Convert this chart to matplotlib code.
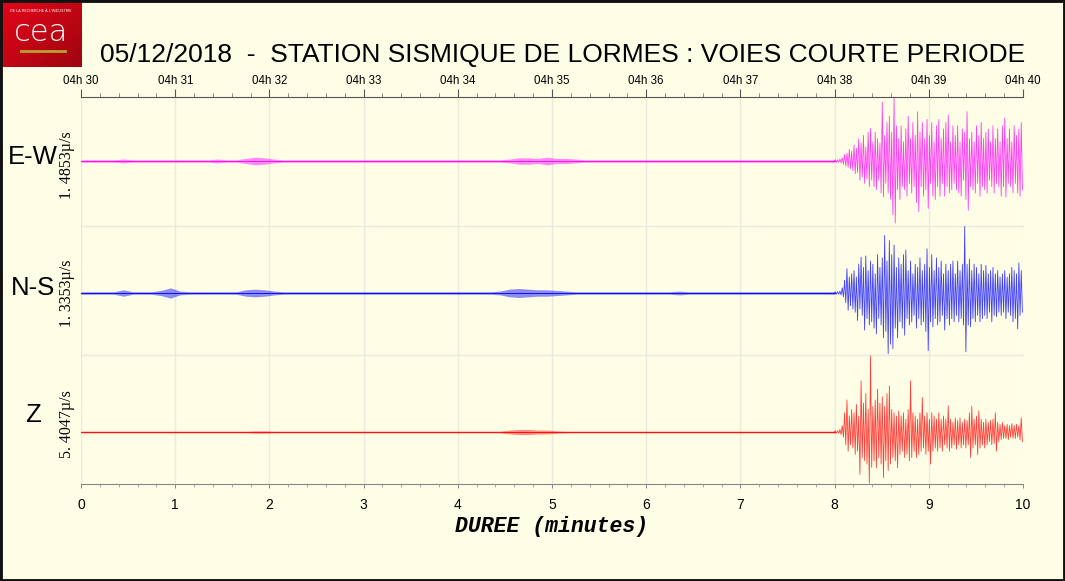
import numpy as np
import matplotlib
matplotlib.use("Agg")
import matplotlib.pyplot as plt
from matplotlib.patches import Rectangle

# ---------------- data ----------------
title = "05/12/2018  -  STATION SISMIQUE DE LORMES : VOIES COURTE PERIODE"
channels = ["E-W", "N-S", "Z"]
scales = ["1. 4853µ/s", "1. 3353µ/s", "5. 4047µ/s"]
colors = ["#FF00FF", "#0000FF", "#FF0000"]
top_ticks = ["04h 30", "04h 31", "04h 32", "04h 33", "04h 34", "04h 35",
             "04h 36", "04h 37", "04h 38", "04h 39", "04h 40"]
bottom_ticks = [0, 1, 2, 3, 4, 5, 6, 7, 8, 9, 10]

# quiet part, 0.0 -> 8.0 min, envelope per 0.1 min (normalised amplitude)
ew_quiet = [0.02, 0.02, 0.02, 0.02, 0.03, 0.02, 0.02, 0.02, 0.02, 0.02,
            0.02, 0.02, 0.02, 0.02, 0.03, 0.02, 0.02, 0.04, 0.06, 0.05,
            0.03, 0.02, 0.02, 0.02, 0.02, 0.02, 0.02, 0.02, 0.02, 0.02,
            0.02, 0.02, 0.02, 0.02, 0.02, 0.02, 0.02, 0.02, 0.02, 0.02,
            0.02, 0.02, 0.02, 0.02, 0.02, 0.03, 0.05, 0.05, 0.04, 0.06,
            0.04, 0.04, 0.03, 0.02, 0.02, 0.02, 0.02, 0.02, 0.02, 0.02,
            0.02, 0.02, 0.02, 0.02, 0.02, 0.02, 0.02, 0.02, 0.02, 0.02,
            0.02, 0.02, 0.02, 0.02, 0.02, 0.02, 0.02, 0.02, 0.02, 0.02]
ns_quiet = [0.02, 0.02, 0.02, 0.02, 0.05, 0.02, 0.02, 0.02, 0.04, 0.08,
            0.03, 0.02, 0.02, 0.02, 0.02, 0.02, 0.02, 0.05, 0.06, 0.05,
            0.03, 0.02, 0.02, 0.02, 0.02, 0.02, 0.02, 0.02, 0.02, 0.02,
            0.02, 0.02, 0.02, 0.02, 0.02, 0.02, 0.02, 0.02, 0.02, 0.02,
            0.02, 0.02, 0.02, 0.02, 0.03, 0.06, 0.07, 0.06, 0.05, 0.05,
            0.04, 0.03, 0.02, 0.02, 0.02, 0.02, 0.02, 0.02, 0.02, 0.02,
            0.02, 0.02, 0.02, 0.03, 0.02, 0.02, 0.02, 0.02, 0.02, 0.02,
            0.02, 0.02, 0.02, 0.02, 0.02, 0.02, 0.02, 0.02, 0.02, 0.02]
z_quiet = [0.015, 0.015, 0.015, 0.015, 0.015, 0.015, 0.015, 0.015, 0.015, 0.015,
           0.015, 0.015, 0.015, 0.015, 0.015, 0.015, 0.015, 0.015, 0.02, 0.02,
           0.015, 0.015, 0.015, 0.015, 0.015, 0.015, 0.015, 0.015, 0.015, 0.015,
           0.015, 0.015, 0.015, 0.015, 0.015, 0.015, 0.015, 0.015, 0.015, 0.015,
           0.015, 0.015, 0.015, 0.015, 0.015, 0.03, 0.04, 0.04, 0.03, 0.03,
           0.02, 0.015, 0.015, 0.015, 0.015, 0.015, 0.015, 0.015, 0.015, 0.015,
           0.015, 0.015, 0.015, 0.015, 0.015, 0.015, 0.015, 0.015, 0.015, 0.015,
           0.015, 0.015, 0.015, 0.015, 0.015, 0.015, 0.015, 0.015, 0.015, 0.015]

# active part, 8.0 -> 10.0 min, peak up / peak down per 0.025 min
ew_up = [0.02, 0.02, 0.03, 0.05, 0.10, 0.12, 0.18, 0.15, 0.25, 0.20,
         0.35, 0.28, 0.40, 0.22, 0.45, 0.51, 0.30, 0.45, 0.35, 0.28,
         0.92, 0.40, 0.60, 0.70, 0.45, 0.99, 0.55, 0.35, 0.55, 0.30,
         0.50, 0.70, 0.35, 0.60, 0.40, 0.77, 0.45, 0.60, 0.35, 0.65,
         0.40, 0.60, 0.30, 0.55, 0.65, 0.35, 0.50, 0.60, 0.72, 0.30,
         0.55, 0.40, 0.55, 0.30, 0.50, 0.45, 0.77, 0.35, 0.45, 0.30,
         0.55, 0.40, 0.60, 0.35, 0.45, 0.50, 0.30, 0.55, 0.35, 0.50,
         0.30, 0.55, 0.67, 0.35, 0.50, 0.30, 0.55, 0.40, 0.50, 0.60]
ew_down = [0.02, 0.02, 0.03, 0.05, 0.08, 0.10, 0.12, 0.15, 0.20, 0.18,
           0.30, 0.25, 0.35, 0.28, 0.40, 0.30, 0.40, 0.45, 0.30, 0.50,
           0.56, 0.35, 0.50, 0.60, 0.84, 0.97, 0.45, 0.60, 0.40, 0.45,
           0.55, 0.35, 0.50, 0.40, 0.65, 0.79, 0.40, 0.55, 0.45, 0.74,
           0.35, 0.55, 0.60, 0.40, 0.55, 0.35, 0.55, 0.40, 0.50, 0.45,
           0.35, 0.45, 0.50, 0.55, 0.30, 0.60, 0.77, 0.40, 0.45, 0.50,
           0.35, 0.55, 0.40, 0.45, 0.50, 0.30, 0.40, 0.50, 0.35, 0.40,
           0.55, 0.40, 0.56, 0.35, 0.40, 0.50, 0.35, 0.50, 0.55, 0.45]
ns_up = [0.02, 0.02, 0.03, 0.08, 0.20, 0.38, 0.25, 0.30, 0.35, 0.25,
         0.45, 0.56, 0.40, 0.58, 0.35, 0.50, 0.45, 0.30, 0.60, 0.40,
         0.55, 0.90, 0.50, 0.82, 0.60, 0.75, 0.40, 0.55, 0.45, 0.60,
         0.67, 0.35, 0.50, 0.30, 0.45, 0.40, 0.55, 0.35, 0.45, 0.69,
         0.40, 0.60, 0.35, 0.55, 0.40, 0.50, 0.30, 0.45, 0.35, 0.45,
         0.50, 0.30, 0.50, 0.35, 0.45, 1.04, 0.45, 0.53, 0.35, 0.45,
         0.40, 0.30, 0.45, 0.35, 0.43, 0.30, 0.35, 0.40, 0.30, 0.35,
         0.25, 0.30, 0.35, 0.25, 0.30, 0.40, 0.35, 0.30, 0.47, 0.35]
ns_down = [0.02, 0.02, 0.03, 0.06, 0.15, 0.27, 0.20, 0.25, 0.30, 0.43,
           0.25, 0.35, 0.58, 0.40, 0.50, 0.45, 0.55, 0.64, 0.40, 0.50,
           0.70, 0.60, 0.95, 0.80, 0.87, 0.55, 0.70, 0.45, 0.55, 0.66,
           0.40, 0.50, 0.45, 0.35, 0.55, 0.40, 0.50, 0.45, 0.60, 0.90,
           0.45, 0.53, 0.40, 0.50, 0.45, 0.35, 0.58, 0.40, 0.50, 0.40,
           0.45, 0.35, 0.45, 0.40, 0.50, 0.92, 0.50, 0.53, 0.40, 0.45,
           0.35, 0.45, 0.40, 0.35, 0.40, 0.30, 0.45, 0.35, 0.37, 0.30,
           0.35, 0.30, 0.40, 0.30, 0.35, 0.45, 0.40, 0.56, 0.35, 0.30]
z_up = [0.02, 0.02, 0.04, 0.10, 0.30, 0.50, 0.25, 0.35, 0.30, 0.43,
        0.25, 0.80, 0.45, 0.60, 0.35, 1.19, 0.40, 0.50, 0.67, 0.45,
        0.55, 0.40, 0.60, 0.72, 0.35, 0.30, 0.25, 0.33, 0.25, 0.30,
        0.20, 0.35, 0.80, 0.30, 0.25, 0.20, 0.30, 0.54, 0.25, 0.30,
        0.20, 0.30, 0.25, 0.20, 0.30, 0.20, 0.25, 0.20, 0.41, 0.20,
        0.15, 0.22, 0.18, 0.22, 0.15, 0.20, 0.18, 0.30, 0.40, 0.20,
        0.25, 0.33, 0.20, 0.15, 0.20, 0.15, 0.18, 0.20, 0.30, 0.15,
        0.12, 0.15, 0.10, 0.12, 0.10, 0.13, 0.10, 0.12, 0.10, 0.22]
z_down = [0.02, 0.02, 0.04, 0.08, 0.20, 0.30, 0.20, 0.25, 0.35, 0.30,
          0.66, 0.40, 0.45, 0.50, 0.80, 0.55, 0.45, 0.56, 0.40, 0.50,
          0.71, 0.45, 0.60, 0.50, 0.40, 0.45, 0.56, 0.35, 0.30, 0.40,
          0.35, 0.45, 0.40, 0.30, 0.40, 0.35, 0.30, 0.25, 0.35, 0.30,
          0.50, 0.30, 0.25, 0.30, 0.25, 0.30, 0.20, 0.25, 0.30, 0.25,
          0.20, 0.27, 0.20, 0.25, 0.20, 0.25, 0.20, 0.40, 0.25, 0.20,
          0.35, 0.25, 0.20, 0.25, 0.20, 0.15, 0.20, 0.18, 0.30, 0.15,
          0.12, 0.10, 0.10, 0.12, 0.08, 0.10, 0.10, 0.08, 0.12, 0.15]

quiet = [ew_quiet, ns_quiet, z_quiet]
ups = [ew_up, ns_up, z_up]
downs = [ew_down, ns_down, z_down]

# ---------------- layout ----------------
W, H = 1065, 581
BG = "#FEFEE6"
GRID = "#E9E9DD"
fig = plt.figure(figsize=(W / 100, H / 100), dpi=100, facecolor=BG)

def fx(px):
    return px / W

def fy(py):
    return 1 - py / H

x0, x1 = 81, 1023
panels = [(97, 226, 161), (226, 355, 293), (355, 484, 432)]
unit_px = 64.0
label_y = [157, 288, 415]
scale_y = [165, 293, 424]

axes = []
for i, (top, bot, base) in enumerate(panels):
    ax = fig.add_axes([fx(x0), fy(bot), fx(x1 - x0), (bot - top) / H])
    ax.set_facecolor("none")
    ax.set_xlim(0, 10)
    ax.set_ylim(-(bot - base) / unit_px, (base - top) / unit_px)
    for s in ax.spines.values():
        s.set_visible(False)
    ax.set_yticks([])
    for m in bottom_ticks:
        ax.axvline(m, color=GRID, lw=1.0, zorder=0)
    if i > 0:
        ax.axhline(ax.get_ylim()[1], color=GRID, lw=1.0, zorder=0, clip_on=False)
    axes.append(ax)

    c = colors[i]
    # quiet part (envelope at bin centres)
    q = np.array(quiet[i])
    tq = (np.arange(len(q)) + 0.5) * 0.1
    tq = np.concatenate([[0.0], tq, [8.0]])
    qq = np.concatenate([[q[0]], q, [q[-1]]])
    ax.fill_between(tq, -qq, qq, color=c, alpha=0.45, lw=0)
    ax.plot([0, 8.0], [0, 0], color=c, lw=0.7, alpha=0.9)
    # active part
    up = np.array(ups[i])
    dn = np.array(downs[i])
    k = np.arange(len(up))
    t = np.empty(2 * len(up))
    y = np.empty(2 * len(up))
    t[0::2] = 8.0 + 0.025 * k + 0.00625
    t[1::2] = 8.0 + 0.025 * k + 0.01875
    y[0::2] = up
    y[1::2] = -dn
    t = np.concatenate([[8.0], t])
    y = np.concatenate([[0.0], y])
    ax.plot(t, y, color=c, lw=0.6, alpha=0.75, clip_on=False)

    # left labels
    fig.text(fx(33), fy(label_y[i]), channels[i], fontsize=18.5,
             family="Liberation Sans", ha="center", va="center")
    fig.text(fx(67), fy(scale_y[i]), scales[i], fontsize=11.5,
             family=["Liberation Serif", "DejaVu Sans"], rotation=90,
             ha="center", va="center")

ax_top, ax_bot = axes[0], axes[-1]
for ax in axes[1:-1]:
    ax.set_xticks([])
# top axis
ax_top.spines["top"].set_visible(True)
ax_top.spines["top"].set_color("#555555")
ax_top.xaxis.tick_top()
ax_top.set_xticks(bottom_ticks)
ax_top.set_xticklabels(top_ticks, fontsize=8.3, family="Liberation Sans")
ax_top.set_xticks(np.arange(0, 10.01, 0.2), minor=True)
ax_top.tick_params(axis="x", which="major", length=6, width=0.8,
                   color="#555555", pad=1.5, direction="out")
ax_top.tick_params(axis="x", which="minor", length=3, width=0.6,
                   color="#777777", direction="out")
# bottom axis
ax_bot.spines["bottom"].set_visible(True)
ax_bot.spines["bottom"].set_color("#888888")
ax_bot.set_xticks(bottom_ticks)
ax_bot.set_xticklabels([str(v) for v in bottom_ticks], fontsize=10,
                       family="Liberation Sans")
ax_bot.set_xticks(np.arange(0, 10.01, 0.2), minor=True)
ax_bot.tick_params(axis="x", which="major", length=3, width=0.7,
                   color="#888888", pad=7)
ax_bot.tick_params(axis="x", which="minor", length=2, width=0.6,
                   color="#999999")
ax_bot.set_xlabel("DUREE (minutes)", fontsize=15.5, family="Liberation Mono",
                  fontweight="bold", fontstyle="italic", labelpad=3)

# title
fig.text(fx(100), fy(62), title, fontsize=19, family="Liberation Sans",
         ha="left", va="baseline")

# CEA logo
lax = fig.add_axes([0, fy(67), fx(82), 67 / H])
gx, gy = np.meshgrid(np.linspace(0, 1, 60), np.linspace(0, 1, 60))
g = (gx + gy) / 2
rgb = np.zeros((60, 60, 3))
rgb[..., 0] = 0.90 - 0.28 * g
rgb[..., 1] = 0.02
rgb[..., 2] = 0.10 - 0.04 * g
lax.imshow(rgb, extent=[0, 1, 0, 1], aspect="auto", origin="upper")
lax.text(0.5, 0.52, "cea", color="white", fontsize=22, family="DejaVu Sans",
         fontweight="light", ha="center", va="center")
lax.text(0.5, 0.83, "DE LA RECHERCHE À L'INDUSTRIE", color="white",
         fontsize=2.6, ha="center", va="center")
lax.plot([0.25, 0.79], [0.235, 0.235], color="#B8A030", lw=2)
lax.set_xlim(0, 1)
lax.set_ylim(0, 1)
lax.axis("off")

# frame
fig.patches.append(Rectangle((0, 0), 1, 1, transform=fig.transFigure,
                             fill=False, lw=3.5, ec="#111111"))

fig.savefig("out.png", dpi=100, facecolor=BG)
